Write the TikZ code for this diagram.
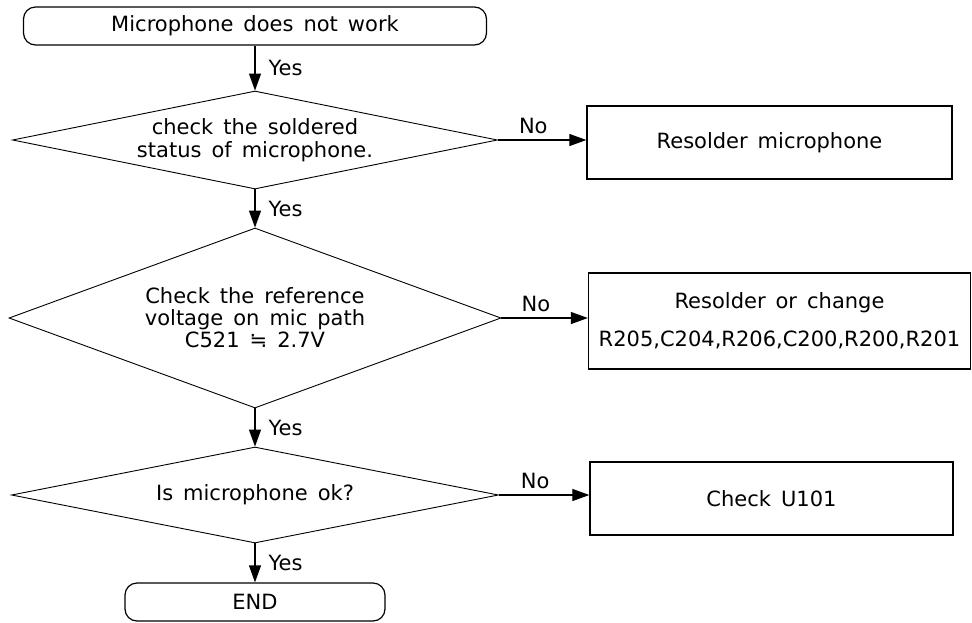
\documentclass[tikz,border=0pt]{standalone}
\usepackage{fontspec}
\setmainfont{DejaVu Sans}[WordSpace=1.5]
\usetikzlibrary{shapes.geometric,arrows.meta}

\tikzset{
    FlowText/.style={font=\fontsize{21}{22}\selectfont, align=center},
    TerminalNode/.style={FlowText, draw, line width=1.2pt, rounded corners=12pt,
        minimum height=38pt, inner sep=0pt},
    DecisionNode/.style={FlowText, draw, line width=0.9pt, diamond, inner sep=0pt},
    ActionBox/.style={FlowText, draw, line width=1.3pt, rectangle,
        minimum height=73pt, inner sep=0pt},
    FlowArrow/.style={line width=1.2pt, -{Triangle[length=17pt,width=12pt]}},
    YesLabel/.style={FlowText, anchor=west, xshift=11pt, inner sep=2pt},
    NoLabel/.style={FlowText, above, pos=0.4, inner sep=6pt}
}

\begin{document}
\begin{tikzpicture}[x=1pt, y=-1pt]

    \useasboundingbox (0, 0) rectangle (972, 622);

    % Columna principal
    \node[TerminalNode, minimum width=463pt] (start) at (255, 26) {Microphone does not work};
    \node[DecisionNode, aspect=4.95, minimum width=485pt, minimum height=98pt] (check1) at (255, 140)
        {check the soldered\\[1pt]status of microphone.};
    \node[DecisionNode, aspect=2.73, minimum width=492pt, minimum height=180pt] (check2) at (255, 318)
        {Check the reference\\voltage on mic path\\C521 ≒ 2.7V};
    \node[DecisionNode, aspect=5.07, minimum width=487pt, minimum height=96pt] (check3) at (255, 495)
        {Is microphone ok?};
    \node[TerminalNode, minimum width=260pt] (finish) at (255, 602) {END};

    % Acciones a la derecha
    \node[ActionBox, minimum width=365pt] (resolder) at (769.5, 142.5) {Resolder microphone};
    \node[ActionBox, minimum width=382pt, minimum height=96pt] (change) at (779.5, 321)
        {Resolder or change\\[16pt]R205,C204,R206,C200,R200,R201};
    \node[ActionBox, minimum width=363pt] (checku) at (771.5, 498.5) {Check U101};

    \draw[FlowArrow] (start) -- node[YesLabel] {Yes} (check1);
    \draw[FlowArrow] (check1) -- node[YesLabel] {Yes} (check2);
    \draw[FlowArrow] (check2) -- node[YesLabel] {Yes} (check3);
    \draw[FlowArrow] (check3) -- node[YesLabel] {Yes} (finish);

    \draw[FlowArrow] (check1.east) -- node[NoLabel] {No} (check1.east -| resolder.west);
    \draw[FlowArrow] (check2.east) -- node[NoLabel] {No} (check2.east -| change.west);
    \draw[FlowArrow] (check3.east) -- node[NoLabel] {No} (check3.east -| checku.west);

\end{tikzpicture}
\end{document}
